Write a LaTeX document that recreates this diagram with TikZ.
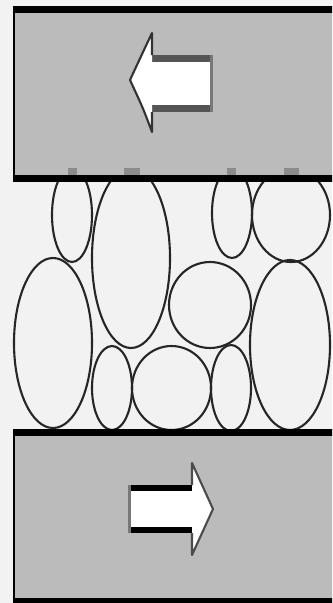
\documentclass[tikz,border=0pt]{standalone}
\usepackage{tikz}
\definecolor{bggray}{RGB}{242,242,242}
\definecolor{plategray}{RGB}{187,187,187}
\definecolor{markgray}{RGB}{140,140,140}
\definecolor{shaftdark}{RGB}{85,85,85}
\definecolor{edgegray}{RGB}{120,120,120}
\tikzset{
  grain/.style={draw=black!85, line width=0.6pt},
  platefill/.style={fill=plategray},
  bar/.style={fill=black},
  graintop/.style={fill=markgray},
  headline/.style={draw=black!80, line width=0.6pt, line join=round},
}
\begin{document}
\begin{tikzpicture}[x=0.01cm,y=-0.01cm]
\useasboundingbox (0,0) rectangle (332,603);
\clip (0,0) rectangle (332,603);
% background
\fill[bggray] (0,0) rectangle (332,603);
% grains
\draw[grain] (72,215) ellipse [x radius=20, y radius=47];
\draw[grain] (131,258) ellipse [x radius=39, y radius=90];
\draw[grain] (232,213) ellipse [x radius=20, y radius=45];
\draw[grain] (291,215) ellipse [x radius=39, y radius=47];
\draw[grain] (53,343) ellipse [x radius=39, y radius=85];
\draw[grain] (210,305) ellipse [x radius=41, y radius=43];
\draw[grain] (290,345) ellipse [x radius=40, y radius=85];
\draw[grain] (112,388) ellipse [x radius=20, y radius=42];
\draw[grain] (171.5,388) ellipse [x radius=39.5, y radius=42];
\draw[grain] (231,388) ellipse [x radius=20, y radius=43];
% top plate
\fill[platefill] (13,6) rectangle (334,182);
\fill[bar] (13,6) rectangle (334,13);
\fill[bar] (13,175) rectangle (334,182);
\fill[bar] (13,6) rectangle (15,182);
% grain tops showing in the top plate
\fill[graintop] (68,168) rectangle (77,175);
\fill[graintop] (124,168) rectangle (140,175);
\fill[graintop] (227,168) rectangle (236,175);
\fill[graintop] (284,168) rectangle (299,175);
% bottom plate
\fill[platefill] (13,429) rectangle (334,605);
\fill[bar] (13,429) rectangle (334,436);
\fill[bar] (13,598) rectangle (334,605);
\fill[bar] (13,429) rectangle (15,605);
% top arrow (pointing left)
\fill[white] (152,55) rectangle (213,112);
\fill[shaftdark] (152,55) rectangle (213,62);
\fill[shaftdark] (152,105) rectangle (213,112);
\fill[edgegray] (210,55) rectangle (213,112);
\fill[white] (152,33) .. controls (143,52) .. (130,80) .. controls (143,108) .. (152,132) -- cycle;
\draw[headline] (152,55) -- (152,33) .. controls (143,52) .. (130,80) .. controls (143,108) .. (152,132) -- (152,112);
% bottom arrow (pointing right)
\fill[white] (128,485) rectangle (192,533);
\fill[black] (128,485) rectangle (192,491);
\fill[black] (128,527) rectangle (192,533);
\fill[edgegray] (128,485) rectangle (131,533);
\fill[white] (192,463) -- (213,509) -- (192,555) -- cycle;
\draw[headline, draw=black!70] (192,485) -- (192,463) -- (213,509) -- (192,555) -- (192,533);
\end{tikzpicture}
\end{document}
